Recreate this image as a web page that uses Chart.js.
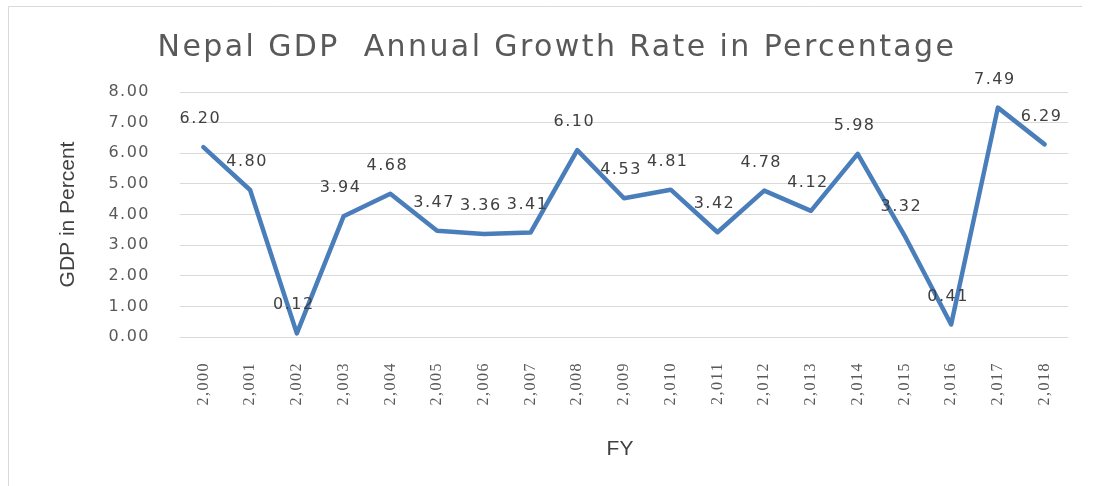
<!DOCTYPE html>
<html>
<head>
<meta charset="utf-8">
<title>Nepal GDP Annual Growth Rate</title>
<script src="https://cdn.jsdelivr.net/npm/chart.js@4.4.0/dist/chart.umd.min.js"></script>
<style>
  html, body { margin: 0; padding: 0; background: #fff; }
  #wrap { width: 1095px; height: 486px; position: relative; }
</style>
</head>
<body>
<div id="wrap"><canvas id="gdpChart"></canvas></div>
<script>
// Fiscal years and growth values (percent)
const years = ['2,000', '2,001', '2,002', '2,003', '2,004', '2,005', '2,006', '2,007', '2,008', '2,009',
  '2,010', '2,011', '2,012', '2,013', '2,014', '2,015', '2,016', '2,017', '2,018'];
const growth = [6.20, 4.80, 0.12, 3.94, 4.68, 3.47, 3.36, 3.41, 6.10, 4.53,
  4.81, 3.42, 4.78, 4.12, 5.98, 3.32, 0.41, 7.49, 6.29];
const yTicks = [0, 1, 2, 3, 4, 5, 6, 7, 8];

const titleText = 'Nepal GDP  Annual Growth Rate in Percentage';
const yTitle = 'GDP in Percent';
const xTitle = 'FY';

// frame, titles and value labels drawn straight onto the canvas
const decorations = {
  id: 'decorations',
  beforeDraw(chart) {
    const c = chart.ctx;
    // wide spacing for the tick labels too
    c.letterSpacing = '1.5px';
    c.save();
    c.strokeStyle = '#d9d9d9';
    c.lineWidth = 1;
    c.beginPath();
    c.moveTo(8.5, 486);
    c.lineTo(8.5, 6.5);
    c.lineTo(1082, 6.5);
    c.stroke();
    c.restore();
  },
  afterDraw(chart) {
    const c = chart.ctx;
    const area = chart.chartArea;
    c.save();
    c.fillStyle = '#595959';
    c.textAlign = 'center';
    c.textBaseline = 'alphabetic';
    c.letterSpacing = '2.4px';
    c.font = '30px "DejaVu Sans", sans-serif';
    c.fillText(titleText, 557, 56);

    c.fillStyle = '#404040';
    c.letterSpacing = '0px';
    c.font = '21px "Liberation Sans Narrow", "Liberation Sans", sans-serif';
    c.fillText(xTitle, 620, 455);

    c.translate(68, (area.top + area.bottom) / 2);
    c.rotate(-Math.PI / 2);
    c.textBaseline = 'middle';
    c.fillText(yTitle, 0, 0);
    c.restore();
  },
  afterDatasetsDraw(chart) {
    const c = chart.ctx;
    const meta = chart.getDatasetMeta(0);
    c.save();
    c.fillStyle = '#404040';
    c.letterSpacing = '1.5px';
    c.font = '16px "DejaVu Sans", sans-serif';
    c.textAlign = 'center';
    c.textBaseline = 'middle';
    meta.data.forEach((pt, i) => {
      c.fillText(growth[i].toFixed(2), pt.x - 3, pt.y - 28);
    });
    c.restore();
  }
};

const ctx = document.getElementById('gdpChart').getContext('2d');
new Chart(ctx, {
  type: 'line',
  data: {
    labels: years,
    datasets: [{
      data: growth,
      borderColor: '#4a7ebb',
      borderWidth: 4.5,
      pointRadius: 0,
      tension: 0,
      borderJoinStyle: 'round',
      borderCapStyle: 'round',
      fill: false
    }]
  },
  options: {
    responsive: true,
    maintainAspectRatio: false,
    animation: false,
    layout: { padding: { left: 100, top: 92, right: 27, bottom: 0 } },
    plugins: {
      legend: { display: false },
      tooltip: { enabled: false },
      title: { display: false }
    },
    scales: {
      x: {
        offset: true,
        grid: { display: false, drawTicks: false },
        border: { display: false },
        ticks: {
          autoSkip: false,
          maxRotation: 90,
          minRotation: 90,
          padding: 25,
          color: '#595959',
          font: { family: '"Liberation Serif", serif', size: 16 }
        },
        afterFit(scale) { scale.height = 149; }
      },
      y: {
        min: 0,
        max: 8,
        afterBuildTicks(scale) { scale.ticks = yTicks.map(v => ({ value: v })); },
        grid: { color: '#d9d9d9', lineWidth: 1, drawTicks: false },
        border: { display: false },
        ticks: {
          padding: 30,
          color: '#595959',
          font: { family: '"DejaVu Sans", sans-serif', size: 16 },
          callback: v => Number(v).toFixed(2)
        },
        afterFit(scale) { scale.width = 80; }
      }
    }
  },
  plugins: [decorations]
});
</script>
</body>
</html>
